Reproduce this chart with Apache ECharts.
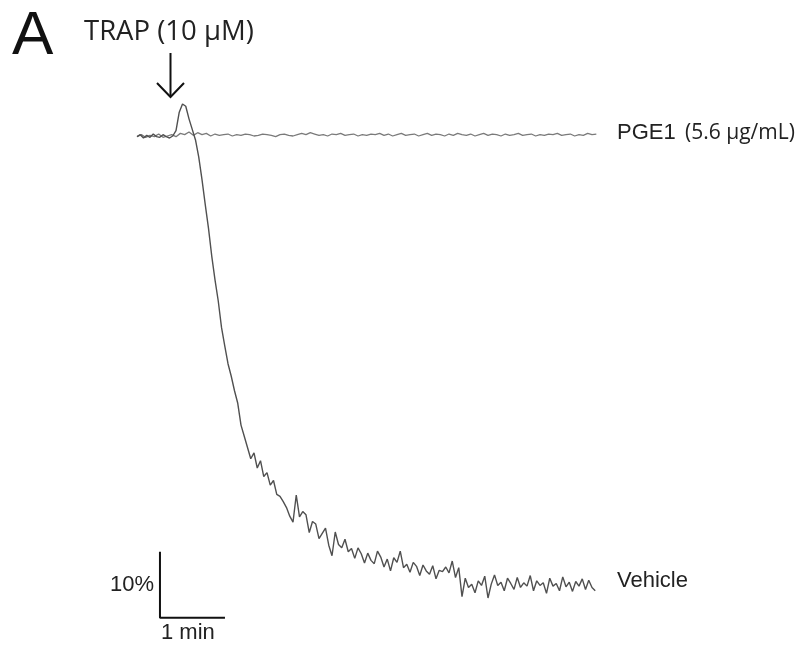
<!DOCTYPE html>
<html>
<head>
<meta charset="utf-8">
<script src="https://cdn.jsdelivr.net/npm/echarts@6/dist/echarts.min.js"></script>
<style>html,body{margin:0;padding:0;background:#fff}#c{width:800px;height:646px}</style>
</head>
<body>
<div id="c"></div>
<script>
// Aggregation traces (% aggregation, increasing downward), sampled at fixed time steps (s)
const vehicleStep = 3;
const vehicleValues = [
  0.1,-0.2,0.3,-0.1,0.2,-0.3,0.1,0.2,-0.2,0.1,0.3,0.0,
  -0.8,-3.6,-4.85,-4.5,-2.6,-1.0,0.6,3.2,6.6,10.4,
  14.0,18.2,21.8,25.0,29.0,31.8,34.5,36.4,38.6,40.5,
  43.8,45.5,47.2,48.9,48.0,50.3,49.2,51.6,51.0,52.9,
  52.2,54.3,54.6,55.4,56.3,57.6,58.5,54.4,57.7,56.9,
  57.4,60.1,58.4,58.8,61.0,60.2,59.4,62.0,
  63.6,60.0,61.9,62.4,61.1,63.0,62.5,64.0,62.4,63.3,
  64.7,63.2,64.3,64.8,62.9,63.8,65.3,64.1,65.9,63.9,
  64.6,62.9,65.4,64.9,66.1,64.6,65.2,66.6,65.0,65.9,
  66.4,65.1,67.1,65.8,66.0,65.3,66.2,64.4,
  66.9,65.4,69.8,67.0,68.4,67.9,69.2,67.4,68.1,66.7,
  70.0,67.9,66.5,68.1,67.6,68.9,67.0,67.8,68.7,66.9,
  68.4,67.7,68.2,66.6,68.9,67.4,68.1,67.7,69.3,67.0,
  68.2,67.8,68.9,66.8,68.3,67.6,69.0,67.5,68.2,67.1,
  68.7,67.3,68.4,68.9
];
const pge1Step = 4;
const pge1Values = [
  0.1,-0.2,0.2,-0.1,0.1,-0.3,0.2,0.0,-0.2,0.1,
  -0.4,-0.2,-0.6,-0.1,-0.5,-0.2,-0.4,0.0,-0.3,-0.1,
  -0.2,-0.3,0.0,-0.2,-0.1,-0.3,-0.2,0.0,-0.1,-0.3,
  -0.2,-0.1,0.1,-0.2,-0.3,-0.1,0.0,-0.2,-0.4,-0.2,
  -0.5,-0.3,-0.1,-0.2,0.0,-0.3,-0.2,-0.4,-0.1,-0.2,
  -0.3,0.0,-0.2,-0.1,-0.3,-0.2,-0.4,-0.1,-0.3,0.0,
  -0.2,-0.4,-0.1,-0.2,-0.3,0.0,-0.2,-0.4,-0.1,-0.3,
  -0.2,0.0,-0.3,-0.1,-0.4,-0.2,-0.1,-0.3,0.0,-0.2,
  -0.4,-0.1,-0.3,-0.2,0.0,-0.3,-0.1,-0.2,-0.4,-0.1,
  -0.2,-0.3,0.0,-0.2,-0.1,-0.3,-0.2,-0.4,-0.1,-0.2,
  -0.3,0.0,-0.2,-0.1,-0.4,-0.2,-0.3
];
// Scale bar: 1 min horizontally, 10 % vertically
const scaleBarTime = [21.2, 21.2, 81.2];
const scaleBarValue = [63, 73, 73];

const vehicleData = vehicleValues.map((v, i) => [i * vehicleStep, v]);
const pge1Data = pge1Values.map((v, i) => [i * pge1Step, v]);
const scaleData = scaleBarTime.map((t, i) => [t, scaleBarValue[i]]);

const chart = echarts.init(document.getElementById('c'), null, {renderer: 'canvas'});
chart.setOption({
  animation: false,
  backgroundColor: '#ffffff',
  grid: {left: 137, top: 70, width: 461.5, height: 561},
  xAxis: {type: 'value', min: 0, max: 426, show: false},
  yAxis: {type: 'value', min: -10, max: 75, inverse: true, show: false},
  series: [
    {type: 'line', name: 'PGE1', data: pge1Data, showSymbol: false,
     lineStyle: {color: '#7a7a7a', width: 1.3}},
    {type: 'line', name: 'Vehicle', data: vehicleData, showSymbol: false,
     lineStyle: {color: '#505050', width: 1.4}},
    {type: 'line', name: 'scale', data: scaleData, showSymbol: false,
     lineStyle: {color: '#111', width: 2}}
  ],
  graphic: [
    {type: 'text', x: 12, y: 37, style: {text: 'A', font: '62px "Liberation Sans"', fill: '#111', textVerticalAlign: 'middle'}},
    {type: 'text', x: 84, y: 32, style: {text: 'TRAP (10 μM)', font: '27.5px "Open Sans"', fill: '#222', textVerticalAlign: 'middle'}},
    {type: 'line', shape: {x1: 170.5, y1: 53, x2: 170.5, y2: 97}, style: {stroke: '#111', lineWidth: 2}},
    {type: 'polyline', shape: {points: [[157, 83], [170.5, 97], [184, 83]]}, style: {stroke: '#111', lineWidth: 2, fill: null}},
    {type: 'text', x: 617, y: 133, style: {text: 'PGE1', font: '22px "Liberation Sans"', fill: '#222', textVerticalAlign: 'middle'}},
    {type: 'text', x: 685, y: 133, style: {text: '(5.6 μg/mL)', font: '21px "Open Sans"', fill: '#222', textVerticalAlign: 'middle'}},
    {type: 'text', x: 617, y: 581, style: {text: 'Vehicle', font: '22px "Liberation Sans"', fill: '#222', textVerticalAlign: 'middle'}},
    {type: 'text', x: 154, y: 585, style: {text: '10%', font: '22px "Liberation Sans"', fill: '#222', textAlign: 'right', textVerticalAlign: 'middle'}},
    {type: 'text', x: 161, y: 633, style: {text: '1 min', font: '22px "Liberation Sans"', fill: '#222', textVerticalAlign: 'middle'}}
  ]
});
</script>
</body>
</html>
